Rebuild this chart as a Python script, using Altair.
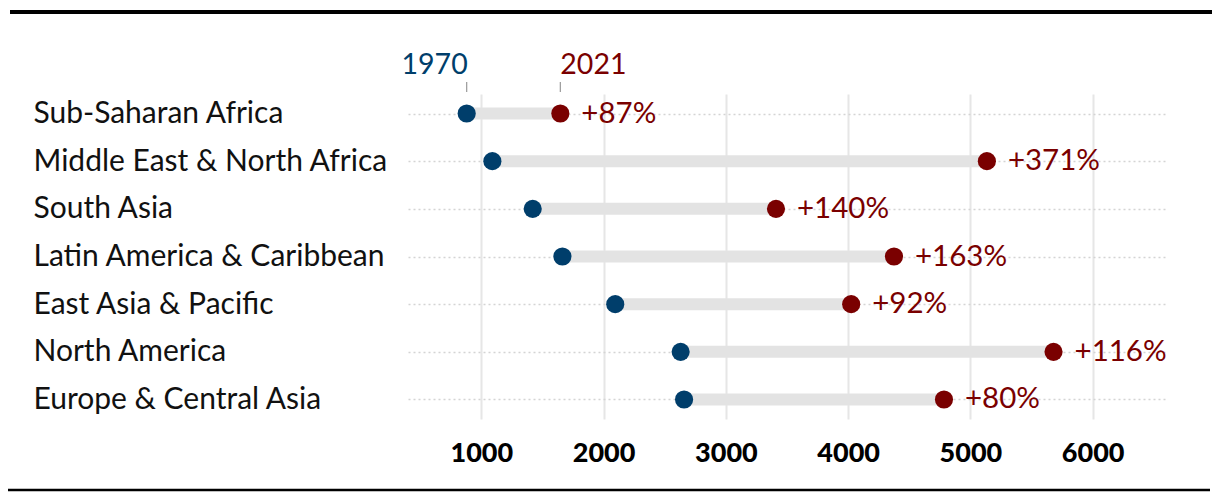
import altair as alt
import pandas as pd

regions = [
    "Sub-Saharan Africa",
    "Middle East & North Africa",
    "South Asia",
    "Latin America & Caribbean",
    "East Asia & Pacific",
    "North America",
    "Europe & Central Asia",
]
v1970 = [880, 1090, 1420, 1663, 2095, 2630, 2658]
v2021 = [1646, 5135, 3410, 4375, 4025, 5680, 4784]
pct_labels = ["+87%", "+371%", "+140%", "+163%", "+92%", "+116%", "+80%"]
tick_values = [1000, 2000, 3000, 4000, 5000, 6000]

BLUE = "#003e6b"
RED = "#7a0000"
FONT = "Lato"

df = pd.DataFrame({"region": regions, "v1970": v1970, "v2021": v2021, "pct": pct_labels})
years = pd.DataFrame({"year": ["1970", "2021"], "value": [v1970[0], v2021[0]]})

W, H = 758, 325

xs = alt.Scale(domain=[400, 6600], nice=False, zero=False)
ys = alt.Scale(type="point", domain=regions, padding=0.41)

base = alt.Chart(df).encode(
    y=alt.Y("region:N", scale=ys, sort=regions, title=None,
            axis=alt.Axis(labelAlign="left", labelPadding=375, ticks=False, domain=False,
                          labelFontSize=30, labelFont=FONT, labelColor="#111111",
                          grid=True, gridDash=[2, 3], gridColor="#d4d4d4", gridWidth=1.5,
                          labelLimit=400)),
)

bars = base.mark_rule(strokeWidth=12, color="#e3e3e3").encode(
    x=alt.X("v1970:Q", scale=xs, title=None,
            axis=alt.Axis(values=tick_values, format="d", grid=True, gridColor="#e6e6e6", gridWidth=2,
                          ticks=False, domain=False, labelFontSize=27, labelFont=FONT,
                          labelFontWeight=900, labelColor="#000000", labelPadding=21,
                          labelFlush=False)),
    x2="v2021:Q",
)

dots70 = base.mark_circle(size=330, opacity=1, color=BLUE).encode(x=alt.X("v1970:Q", scale=xs))
dots21 = base.mark_circle(size=330, opacity=1, color=RED).encode(x=alt.X("v2021:Q", scale=xs))
pct = base.mark_text(align="left", baseline="middle", dx=21, fontSize=29.5, font=FONT, color=RED).encode(
    x=alt.X("v2021:Q", scale=xs), text="pct:N"
)

yb = alt.Chart(years)
ytick = yb.mark_rule(color="#999999", strokeWidth=1.2).encode(
    x=alt.X("value:Q", scale=xs), y=alt.value(-12), y2=alt.value(-2)
)
ylab70 = yb.transform_filter(alt.datum.year == "1970").mark_text(
    align="right", baseline="alphabetic", dx=1, fontSize=28.5, font=FONT, color=BLUE
).encode(x=alt.X("value:Q", scale=xs), y=alt.value(-20), text="year:N")
ylab21 = yb.transform_filter(alt.datum.year == "2021").mark_text(
    align="left", baseline="alphabetic", dx=0, fontSize=28.5, font=FONT, color=RED
).encode(x=alt.X("value:Q", scale=xs), y=alt.value(-20), text="year:N")

top_rule = alt.Chart(df.head(1)).mark_rule(color="#000000", strokeWidth=4).encode(
    x=alt.value(-398), x2=alt.value(812), y=alt.value(-82)
)
bot_rule = alt.Chart(df.head(1)).mark_rule(color="#000000", strokeWidth=2.5).encode(
    x=alt.value(-408), x2=alt.value(802), y=alt.value(396)
)

chart = alt.layer(bars, dots70, dots21, pct, ytick, ylab70, ylab21, top_rule, bot_rule).properties(
    width=W, height=H,
    background="white",
    autosize=alt.AutoSizeParams(type="none"),
    padding={"left": 400, "top": 86, "right": 46, "bottom": 75},
).configure_view(strokeWidth=0, stroke="transparent")

chart.save("out.html", embed_options={"renderer": "svg", "actions": False})
